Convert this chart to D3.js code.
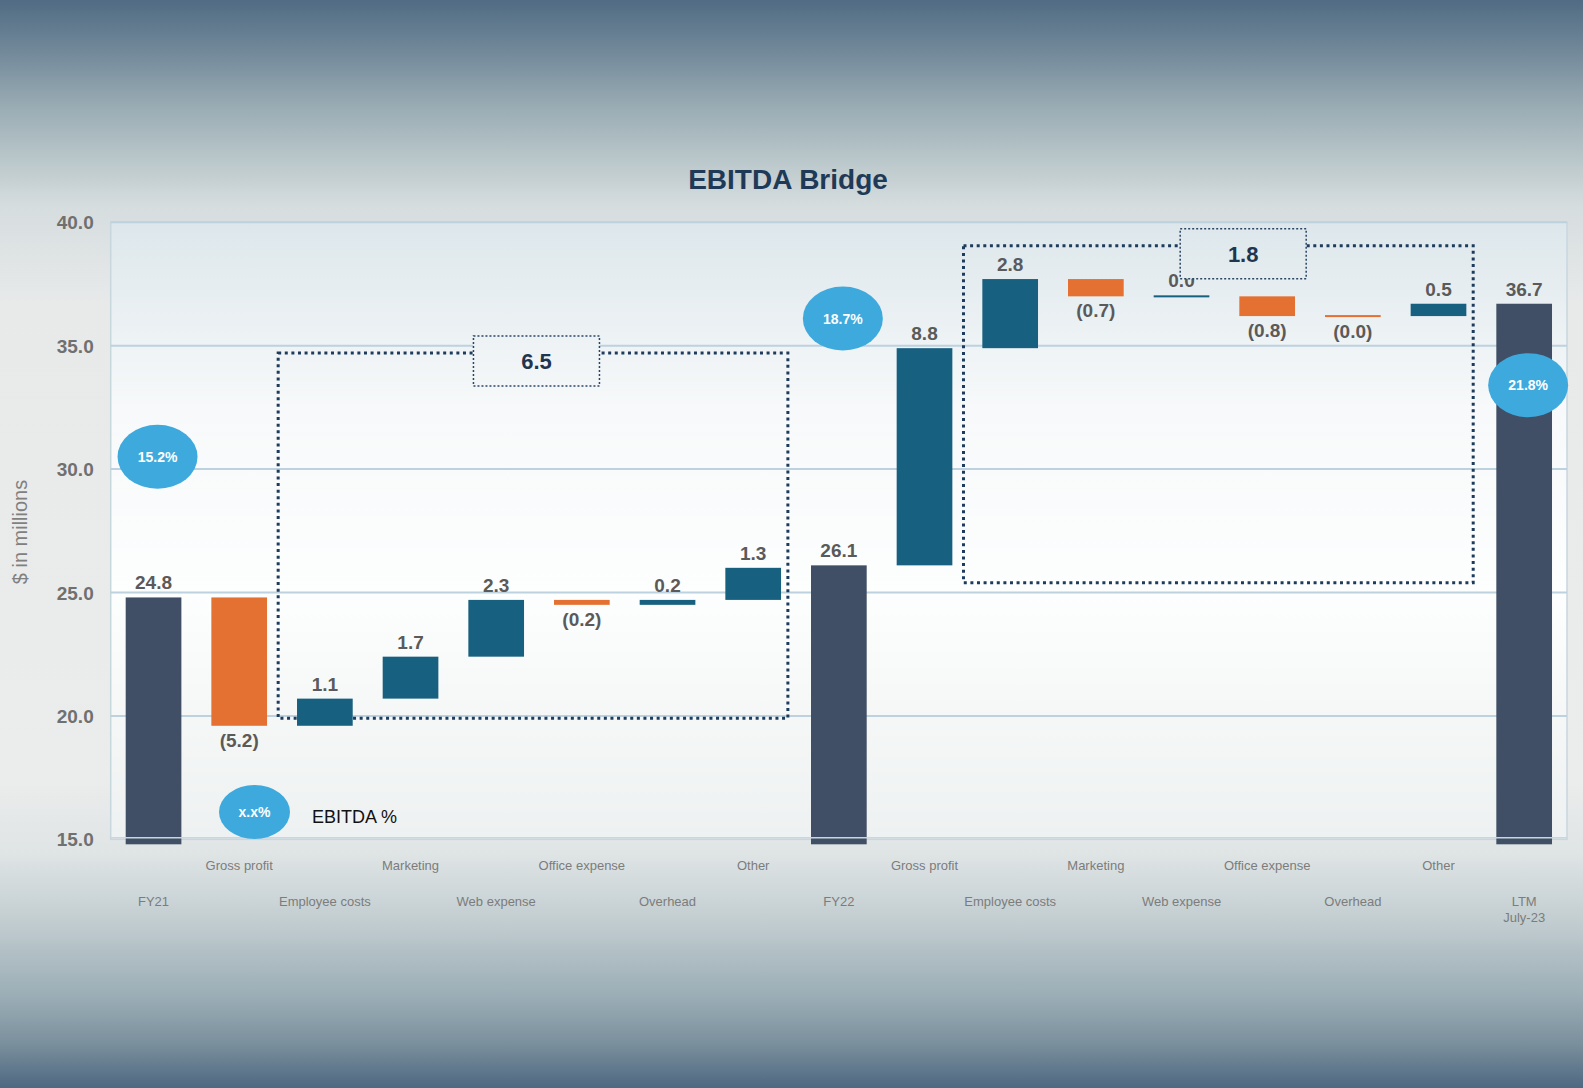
<!DOCTYPE html>
<html><head><meta charset="utf-8">
<script src="https://cdn.jsdelivr.net/npm/d3@7"></script>
<style>html,body{margin:0;padding:0;background:#e9eaea;} svg{display:block;}</style>
</head><body>
<svg id="chart" width="1583" height="1088"></svg>
<script>
// ---------- data ----------
const categories = ["FY21","Gross profit","Employee costs","Marketing","Web expense","Office expense","Overhead","Other",
                    "FY22","Gross profit","Employee costs","Marketing","Web expense","Office expense","Overhead","Other","LTM\nJuly-23"];
const barTypes = ["total","delta","delta","delta","delta","delta","delta","delta",
                  "total","delta","delta","delta","delta","delta","delta","delta","total"];
const values = [24.8,-5.2,1.1,1.7,2.3,-0.2,0.2,1.3,26.1,8.8,2.8,-0.7,0.0,-0.8,-0.0,0.5,36.7];
const yTicks = [15,20,25,30,35,40];
// EBITDA % bubbles
const pctIndex = [0,8,16];
const pctLevel = [30.5,36.1,33.4];
const pctLabels = ["15.2%","18.7%","21.8%"];
// bridge groups
const groupFrom = [2,10];
const groupTo = [7,15];
const groupTotals = [6.5,1.8];
const groupLow = [19.9,25.4];
const groupHigh = [34.7,39.05];
const groupLabelAt = [4.47,12.72];

// ---------- layout ----------
const W = 1583, H = 1088;
const plot = {left:110.7, right:1567, top:222.3, bottom:839.3};
const colors = {total:"#404f66", pos:"#17607f", neg:"#e47131", bubble:"#3ea9dd", box:"#1d3b5c"};

const svg = d3.select("#chart");
const defs = svg.append("defs");

const bg = defs.append("linearGradient").attr("id","bg").attr("x1",0).attr("x2",0).attr("y1",0).attr("y2",1);
[[0,"#506b83"],[0.046,"#718899"],[0.092,"#95a8b1"],[0.147,"#bac7ca"],[0.19,"#d6dddf"],[0.28,"#e8eaea"],
 [0.72,"#ebecec"],[0.785,"#dfe4e5"],[0.845,"#c3ced1"],[0.92,"#98abb4"],[0.96,"#7a8f9c"],[1,"#4e6882"]]
 .forEach(s=>bg.append("stop").attr("offset",s[0]).attr("stop-color",s[1]));

const pg = defs.append("linearGradient").attr("id","plotbg").attr("gradientUnits","userSpaceOnUse")
  .attr("x1",0).attr("x2",0).attr("y1",plot.top).attr("y2",plot.bottom);
[[0,"#dde7eb"],[0.3,"#f7f9fa"],[0.6,"#fdfefe"],[1,"#eef1f1"]]
 .forEach(s=>pg.append("stop").attr("offset",s[0]).attr("stop-color",s[1]));

svg.append("rect").attr("width",W).attr("height",H).attr("fill","url(#bg)");

// scales
const n = categories.length;
const x = d3.scaleBand().domain(d3.range(n)).range([plot.left, plot.right]).paddingInner(0.35).paddingOuter(0.175);
const y = d3.scaleLinear().domain([yTicks[0], yTicks[yTicks.length-1]]).range([plot.bottom, plot.top]);
const step = x.step(), bw = x.bandwidth();
const xc = i => x(i) + bw/2;
const xAt = f => x(0) + bw/2 + f*step;

// plot area
svg.append("rect").attr("x",plot.left).attr("y",plot.top).attr("width",plot.right-plot.left)
  .attr("height",plot.bottom-plot.top).attr("fill","url(#plotbg)").attr("stroke","#c8d6de").attr("stroke-width",1.5);

// gridlines
svg.append("g").selectAll("line").data(yTicks.slice(1)).join("line")
  .attr("x1",plot.left).attr("x2",plot.right).attr("y1",d=>y(d)).attr("y2",d=>y(d))
  .attr("stroke","#bdd2de").attr("stroke-width",2);

// waterfall computation
let running = 0;
const rows = values.map((v,i)=>{
  const neg = v < 0 || Object.is(v,-0);
  if (barTypes[i]==="total") { running = v; return {i, v, type:"total", lo:yTicks[0], hi:v, neg:false}; }
  const start = running; running = running + v;
  return {i, v, type:"delta", lo:Math.min(start,running), hi:Math.max(start,running), neg};
});

// group boxes (behind bars)
const gb = svg.append("g");
groupFrom.forEach((f,k)=>{
  const x0 = x(f) - 0.22*step, x1 = x(groupTo[k]) + bw + 0.08*step;
  gb.append("rect").attr("x",x0).attr("y",y(groupHigh[k])).attr("width",x1-x0)
    .attr("height",y(groupLow[k])-y(groupHigh[k])).attr("fill","none")
    .attr("stroke",colors.box).attr("stroke-width",3).attr("stroke-dasharray","3 3.6");
});

// bars
svg.append("g").selectAll("rect").data(rows).join("rect")
  .attr("x",d=>x(d.i)).attr("width",bw)
  .attr("y",d=>{
    const h = y(d.lo)-y(d.hi);
    return h < 2 ? y(d.hi)-1 : y(d.hi);
  })
  .attr("height",d=>{
    let h = y(d.lo)-y(d.hi);
    if (d.type==="total") h += 5;
    return Math.max(2,h);
  })
  .attr("fill",d=>d.type==="total"?colors.total:(d.neg?colors.neg:colors.pos));

// bottom axis line over bars
svg.append("line").attr("x1",plot.left).attr("x2",plot.right).attr("y1",plot.bottom-1.5).attr("y2",plot.bottom-1.5)
  .attr("stroke","#c8d6de").attr("stroke-width",1.5);

// data labels
const fmt = d3.format(".1f");
svg.append("g").selectAll("text").data(rows).join("text")
  .attr("x",d=>xc(d.i))
  .attr("y",d=>{
    const h = y(d.lo)-y(d.hi);
    const top = h < 2 ? y(d.hi)-1 : y(d.hi);
    const bot = h < 2 ? y(d.hi)+1 : y(d.lo);
    return d.neg ? bot + 21 : top - 8;
  })
  .attr("text-anchor","middle").attr("font-family","Liberation Sans, Arial, sans-serif")
  .attr("font-weight","bold").attr("font-size",19).attr("fill","#5a5a5a")
  .text(d=> d.neg ? "(" + fmt(Math.abs(d.v)) + ")" : fmt(d.v));

// group label boxes
groupFrom.forEach((f,k)=>{
  const cx = xAt(groupLabelAt[k]);
  const top = y(groupHigh[k]) - 17;
  svg.append("rect").attr("x",cx-63).attr("y",top).attr("width",126).attr("height",50)
    .attr("fill","url(#plotbg)").attr("stroke","#2b4563").attr("stroke-width",1.5).attr("stroke-dasharray","2 2");
  svg.append("text").attr("x",cx).attr("y",top+33).attr("text-anchor","middle")
    .attr("font-family","Liberation Sans, Arial, sans-serif").attr("font-weight","bold")
    .attr("font-size",22).attr("fill","#1f3550").text(fmt(groupTotals[k]));
});

// EBITDA % bubbles
const bub = svg.append("g");
pctIndex.forEach((ci,k)=>{
  const cx = xc(ci) + 4, cy = y(pctLevel[k]);
  bub.append("ellipse").attr("cx",cx).attr("cy",cy).attr("rx",40).attr("ry",32).attr("fill",colors.bubble);
  bub.append("text").attr("x",cx).attr("y",cy+5).attr("text-anchor","middle")
    .attr("font-family","Liberation Sans, Arial, sans-serif").attr("font-weight","bold")
    .attr("font-size",14).attr("fill","#ffffff").text(pctLabels[k]);
});

// legend
svg.append("ellipse").attr("cx",254.5).attr("cy",812).attr("rx",35.5).attr("ry",27).attr("fill",colors.bubble);
svg.append("text").attr("x",254.5).attr("y",817).attr("text-anchor","middle")
  .attr("font-family","Liberation Sans, Arial, sans-serif").attr("font-weight","bold")
  .attr("font-size",14).attr("fill","#ffffff").text("x.x%");
svg.append("text").attr("x",312).attr("y",823)
  .attr("font-family","Liberation Sans, Arial, sans-serif")
  .attr("font-size",18).attr("fill","#111111").text("EBITDA %");

// y axis
const yAxis = svg.append("g").attr("transform",`translate(${plot.left-17},0)`)
  .call(d3.axisLeft(y).tickValues(yTicks).tickFormat(d3.format(".1f")).tickSize(0).tickPadding(0));
yAxis.select(".domain").remove();
yAxis.selectAll("text").attr("font-family","Liberation Sans, Arial, sans-serif").attr("font-weight","bold")
  .attr("font-size",19).attr("fill","#707070").attr("dy","0.35em");

// x axis
const xAxis = svg.append("g").attr("transform",`translate(0,${plot.bottom})`)
  .call(d3.axisBottom(x).tickFormat(i=>categories[i]).tickSize(0));
xAxis.select(".domain").remove();
xAxis.selectAll("text").each(function(i){
  const t = d3.select(this);
  const lines = categories[i].split("\n");
  t.text(null).attr("y", i%2===1 ? 31 : 67).attr("dy",0)
   .attr("font-family","Liberation Sans, Arial, sans-serif")
   .attr("font-size",13).attr("fill","#7c7c7c");
  lines.forEach((l,j)=>t.append("tspan").attr("x",0).attr("dy", j===0?0:16).text(l));
});

// axis title
svg.append("text").attr("transform","translate(27,532) rotate(-90)").attr("text-anchor","middle")
  .attr("font-family","Liberation Sans, Arial, sans-serif").attr("font-size",20).attr("fill","#808080")
  .text("$ in millions");

// title
svg.append("text").attr("x",788).attr("y",189).attr("text-anchor","middle")
  .attr("font-family","Liberation Sans, Arial, sans-serif").attr("font-weight","bold")
  .attr("font-size",28).attr("fill","#1f3a56").text("EBITDA Bridge");
</script>
</body></html>
